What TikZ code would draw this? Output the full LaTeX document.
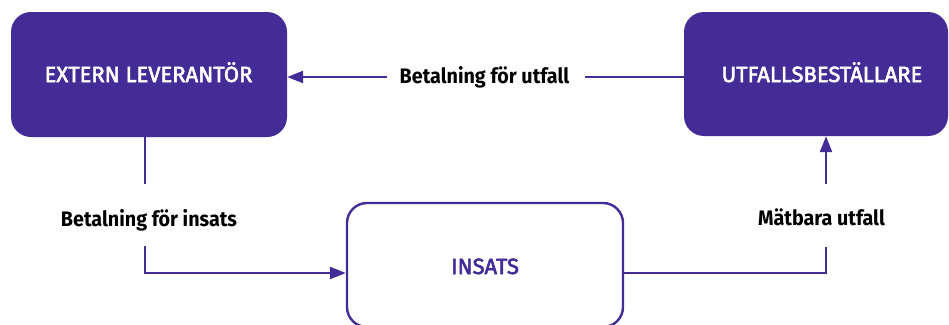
\documentclass[tikz,border=0pt]{standalone}
\usepackage{fontspec}
\setmainfont{Fira Sans}
\newfontfamily\boxf[FakeBold=2.5]{Fira Sans}
\newfontfamily\labf[FakeStretch=0.94]{Fira Sans}
\usetikzlibrary{arrows.meta}
\definecolor{vio}{RGB}{67,44,150}
\begin{document}
\begin{tikzpicture}[x=1pt,y=-1pt,
  conn/.style={draw=vio,line width=2.4pt},
  arr/.style={conn,-{Triangle[length=16pt,width=12pt]}},
  solidbox/.style={rectangle,rounded corners=20pt,fill=vio,inner sep=0pt},
  openbox/.style={rectangle,rounded corners=20pt,draw=vio,line width=2.4pt,fill=white,inner sep=0pt},
  boxtext/.style={font=\boxf\fontsize{22}{26}\selectfont,inner sep=0pt,anchor=base},
  labtext/.style={font=\labf\bfseries\fontsize{21}{25}\selectfont,inner sep=0pt,anchor=base,text=black}]
\useasboundingbox (0,0) rectangle (949,324);
\fill[white] (0,0) rectangle (949,324);
% boxes
\node[solidbox,minimum width=276pt,minimum height=125pt] (lev) at (149,74.5) {};
\node[solidbox,minimum width=264pt,minimum height=124pt] (utf) at (816,74) {};
\node[openbox,minimum width=276pt,minimum height=124pt] (ins) at (485,265) {};
% box texts
\node[boxtext,text=white] (levt) at (148.5,82) {EXTERN LEVERANTÖR};
\node[boxtext,text=white] (utft) at (822,82) {UTFALLSBESTÄLLARE};
\node[boxtext,text=vio] (inst) at (485,274) {INSATS};
% labels
\node[labtext] (lab1) at (484.5,83) {Betalning för utfall};
\node[labtext] (lab2) at (149,226) {Betalning för insats};
\node[labtext] (lab3) at (821.5,225.5) {Mätbara utfall};
% helper coordinates
\coordinate (ty) at (0,77);
\coordinate (ta) at (387,77);
\coordinate (tb) at (585,77);
\coordinate (l1) at (145,184);
\coordinate (l2) at (145,246);
\coordinate (by) at (0,273);
\coordinate (r1) at (826,247);
\coordinate (r2) at (826,184);
% connectors
\draw[conn] (utf.west |- ty) -- (tb);
\draw[arr] (ta) -- (lev.east |- ty);
\draw[conn] (lev.south -| l1) -- (l1);
\draw[arr] (l2) |- (ins.west |- by);
\draw[conn] (ins.east |- by) -| (r1);
\draw[arr] (r2) -- (utf.south -| r2);
\end{tikzpicture}
\end{document}
